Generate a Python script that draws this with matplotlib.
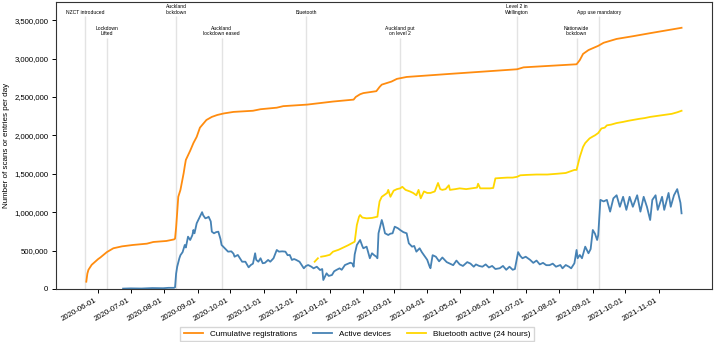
import matplotlib
matplotlib.use("Agg")
import matplotlib.pyplot as plt
import matplotlib.dates as mdates
from matplotlib.ticker import FuncFormatter
import numpy as np
import pandas as pd

plt.rcParams['font.family'] = ['Liberation Sans', 'DejaVu Sans']

BASE = pd.Timestamp('2020-06-01')  # day offsets below are counted from this date

# Cumulative registrations (day offset, value)
reg_day = [-11, -10, -9, -6, 0, 2, 8, 14, 22, 32, 45, 51, 63, 70, 71, 72, 73, 74, 76, 79, 80, 81,
           85, 88, 91, 94, 97, 100, 105, 110, 116, 125, 143, 150, 165, 171, 193, 217, 236, 238,
           242, 245, 257, 260, 262, 271, 276, 285, 325, 387, 393, 442, 445, 448, 453, 462, 467,
           479, 494, 510, 539]
reg_val = [95, 200, 250, 315, 390, 410, 480, 530, 555, 573, 590, 612, 625, 645, 655, 800, 1000,
           1200, 1290, 1510, 1600, 1680, 1800, 1900, 1980, 2100, 2150, 2200, 2240, 2265, 2285,
           2305, 2320, 2340, 2360, 2380, 2400, 2440, 2465, 2500, 2535, 2550, 2575, 2630, 2660,
           2700, 2735, 2760, 2800, 2860, 2885, 2925, 2980, 3060, 3110, 3165, 3205, 3255, 3290,
           3330, 3400]

# Active devices
act_day = [23, 30, 40, 50, 60, 65, 70, 71, 72, 73, 75, 76, 78, 80, 81, 83, 85, 87, 88, 89, 91,
           94, 96, 97, 99, 101, 102, 104, 105, 107, 109, 111, 113, 114, 117, 120, 123, 125, 126,
           129, 131, 133, 136, 139, 141, 143, 145, 146, 148, 150, 152, 154, 157, 159, 162, 165,
           167, 170, 173, 175, 177, 179, 181, 183, 186, 188, 190, 192, 194, 197, 199, 202, 205,
           207, 208, 211, 213, 216, 218, 220, 223, 225, 228, 231, 233, 235, 236, 237, 239, 242,
           244, 245, 248, 250, 251, 253, 255, 257, 258, 259, 262, 263, 265, 268, 270, 272, 274,
           277, 279, 282, 285, 287, 290, 292, 294, 297, 299, 301, 304, 306, 307, 309, 312, 315,
           318, 320, 322, 325, 328, 331, 334, 337, 341, 344, 347, 349, 352, 355, 358, 361, 364,
           367, 371, 374, 377, 380, 383, 385, 388, 390, 392, 395, 399, 402, 405, 408, 411, 414,
           417, 420, 423, 427, 429, 432, 435, 437, 440, 442, 443, 445, 447, 450, 453, 455, 457,
           459, 461, 462, 464, 467, 470, 473, 476, 479, 482, 485, 488, 491, 494, 498, 501, 504,
           507, 510, 512, 515, 517, 521, 523, 527, 529, 532, 535, 538, 539]
act_val = [5, 8, 6, 12, 10, 15, 15, 22, 200, 290, 400, 440, 480, 573, 540, 681, 638, 700, 768,
           725, 855, 941, 1000, 960, 920, 930, 941, 880, 746, 725, 740, 746, 650, 573, 530, 486,
           490, 460, 420, 443, 400, 355, 355, 282, 312, 330, 465, 380, 355, 400, 335, 340, 378,
           355, 400, 508, 486, 490, 486, 440, 443, 378, 390, 378, 355, 312, 269, 300, 312, 290,
           269, 290, 247, 260, 117, 204, 170, 182, 230, 247, 269, 250, 312, 330, 342, 330, 290,
           450, 573, 638, 560, 530, 551, 450, 400, 465, 440, 420, 400, 725, 898, 850, 725, 703,
           720, 725, 811, 790, 768, 740, 725, 595, 551, 560, 486, 530, 480, 440, 380, 300, 270,
           440, 420, 360, 410, 380, 350, 330, 310, 370, 320, 300, 350, 330, 290, 320, 300, 290,
           320, 280, 300, 260, 270, 300, 250, 290, 250, 260, 480, 430, 400, 420, 380, 340, 370,
           320, 340, 310, 310, 330, 290, 312, 269, 312, 290, 269, 335, 508, 400, 443, 400, 551,
           465, 520, 768, 720, 638, 700, 1160, 1140, 1160, 1007, 1180, 1220, 1070, 1200, 1030,
           1200, 1070, 1220, 1007, 1200, 1070, 898, 1160, 1220, 1030, 1200, 1030, 1250, 1070,
           1220, 1300, 1120, 985]

# Bluetooth active (24 hours); NaN marks a gap in the line
bt_day = [200, 203, 204, 206, 210, 214, 217, 222, 227, 231, 236, 237, 239, 241, 242, 244, 248,
          253, 258, 259, 260, 262, 265, 267, 268, 270, 273, 276, 279, 281, 284, 288, 291, 294,
          296, 298, 301, 304, 307, 311, 314, 316, 318, 321, 324, 325, 330, 334, 340, 345, 350,
          351, 353, 358, 362, 365, 367, 372, 378, 383, 387, 390, 396, 405, 415, 424, 432, 440,
          442, 445, 448, 450, 454, 457, 459, 462, 465, 468, 470, 474, 479, 485, 490, 494, 500,
          505, 510, 515, 520, 525, 530, 535, 539]
bt_val = [355, 400, np.nan, 420, 430, 445, 486, 510, 543, 570, 608, 616, 833, 940, 963, 930, 920,
          925, 941, 1050, 1140, 1200, 1230, 1250, 1290, 1200, 1280, 1300, 1310, 1330, 1290, 1270,
          1250, 1220, 1290, 1180, 1270, 1250, 1250, 1270, 1380, 1300, 1290, 1300, 1350, 1290,
          1300, 1310, 1300, 1310, 1320, 1370, 1310, 1310, 1310, 1315, 1440, 1445, 1450, 1450,
          1460, 1480, 1485, 1490, 1490, 1500, 1510, 1550, 1550, 1720, 1850, 1900, 1960, 1985,
          2000, 2030, 2090, 2100, 2130, 2140, 2160, 2175, 2190, 2200, 2215, 2225, 2240, 2250,
          2260, 2270, 2280, 2300, 2320]

# Events
event_dates = ['2020-05-20', '2020-06-09', '2020-08-12', '2020-09-23', '2020-12-10',
               '2021-03-07', '2021-06-23', '2021-08-17', '2021-09-07']
event_labels = ['NZCT introduced', 'Lockdown\nLifted', 'Auckland\nlockdown',
                'Auckland\nlockdown eased', 'Bluetooth', 'Auckland put\non level 2',
                'Level 2 in\nWellington', 'Nationwide\nlockdown', 'App use mandatory']
event_high = [True, False, True, False, True, False, True, False, True]


def to_dates(days):
    return BASE + pd.to_timedelta(days, unit='D')


fig = plt.figure(figsize=(7.14, 3.42), dpi=100)
ax = fig.add_axes([0.0784, 0.155, 0.9186, 0.839])

for d, lab, hi in zip(event_dates, event_labels, event_high):
    top = 3.57e6 if hi else 3.29e6
    ax.vlines(pd.Timestamp(d), 0, top - 0.02e6, color='#e3e3e3', lw=1.0, zorder=1)
    ax.text(pd.Timestamp(d), top, lab, ha='center', va='bottom', fontsize=3.6,
            linespacing=1.1, zorder=3)

ax.plot(to_dates(reg_day), np.array(reg_val) * 1000, color='#ff8c0f', lw=1.3,
        label='Cumulative registrations', zorder=2)
ax.plot(to_dates(act_day), np.array(act_val) * 1000, color='#4682b4', lw=1.3,
        label='Active devices', zorder=2)
ax.plot(to_dates(bt_day), np.array(bt_val) * 1000, color='#ffd700', lw=1.3,
        label='Bluetooth active (24 hours)', zorder=2)

ax.set_xlim(pd.Timestamp('2020-04-23'), pd.Timestamp('2021-12-20'))
ax.set_ylim(0, 3.735e6)
ax.set_yticks(np.arange(0, 3.5e6 + 1, 5e5))
ax.yaxis.set_major_formatter(FuncFormatter(lambda v, p: f'{int(v):,}'))
ticks = pd.date_range('2020-06-01', '2021-11-01', freq='MS')
ax.set_xticks(ticks)
ax.xaxis.set_major_formatter(mdates.DateFormatter('%Y-%m-%d'))
ax.tick_params(axis='both', labelsize=5.6, length=3, width=0.7, pad=2.5)
for lbl in ax.get_xticklabels():
    lbl.set_rotation(30)
    lbl.set_ha('right')
    lbl.set_rotation_mode('default')
for s in ax.spines.values():
    s.set_linewidth(0.8)
    s.set_color('#333333')
ax.set_ylabel('Number of scans or entries per day', fontsize=5.8, labelpad=3)

fig.legend(loc='lower center', bbox_to_anchor=(0.5, 0.0), ncol=3, fontsize=5.85,
           handlelength=2.4, frameon=True, fancybox=False, edgecolor='#cccccc',
           borderaxespad=0.1)

fig.savefig('out.png', dpi=100)
